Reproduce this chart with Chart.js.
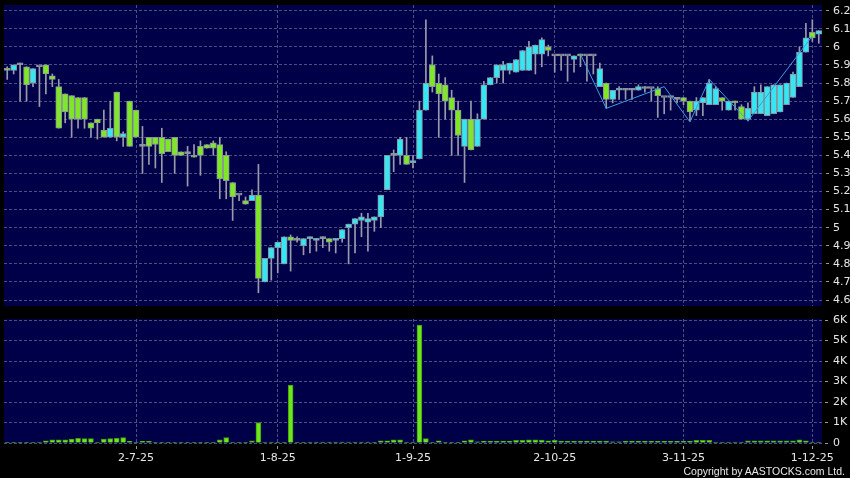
<!DOCTYPE html>
<html>
<head>
<meta charset="utf-8">
<script src="https://cdn.jsdelivr.net/npm/chart.js@4.4.1/dist/chart.umd.min.js"></script>
<style>
  body { margin: 0; background: #000; width: 850px; height: 478px; overflow: hidden; position: relative; }
  #price { position: absolute; left: 0; top: 0; }
  #vol { position: absolute; left: 0; top: 310px; }
  #copy { position: absolute; right: 5px; top: 465px; color: #e8e8e8; font: 10.5px 'Liberation Sans', sans-serif; }
</style>
</head>
<body>
<canvas id="price" width="850" height="310"></canvas>
<canvas id="vol" width="850" height="168"></canvas>
<div id="copy">Copyright by AASTOCKS.com Ltd.</div>
<script>
// trading days, 3 Jun 2025 - 2 Dec 2025
const dates = [
  '3-6-25','4-6-25','5-6-25','6-6-25','9-6-25','10-6-25','11-6-25','12-6-25','13-6-25','16-6-25',
  '17-6-25','18-6-25','19-6-25','20-6-25','23-6-25','24-6-25','25-6-25','26-6-25','27-6-25','30-6-25',
  '2-7-25','3-7-25','4-7-25','7-7-25','8-7-25','9-7-25','10-7-25','11-7-25','14-7-25','15-7-25',
  '16-7-25','17-7-25','18-7-25','21-7-25','22-7-25','23-7-25','24-7-25','25-7-25','28-7-25','29-7-25',
  '30-7-25','31-7-25','1-8-25','4-8-25','5-8-25','6-8-25','7-8-25','8-8-25','11-8-25','12-8-25',
  '13-8-25','14-8-25','15-8-25','18-8-25','19-8-25','20-8-25','21-8-25','22-8-25','25-8-25','26-8-25',
  '27-8-25','28-8-25','29-8-25','1-9-25','2-9-25','3-9-25','4-9-25','5-9-25','8-9-25','9-9-25',
  '10-9-25','11-9-25','12-9-25','15-9-25','16-9-25','17-9-25','18-9-25','19-9-25','22-9-25','23-9-25',
  '24-9-25','25-9-25','26-9-25','29-9-25','30-9-25','2-10-25','3-10-25','6-10-25','8-10-25','9-10-25',
  '10-10-25','13-10-25','14-10-25','15-10-25','16-10-25','17-10-25','20-10-25','21-10-25','22-10-25','23-10-25',
  '24-10-25','27-10-25','28-10-25','30-10-25','31-10-25','3-11-25','4-11-25','5-11-25','6-11-25','7-11-25',
  '10-11-25','11-11-25','12-11-25','13-11-25','14-11-25','17-11-25','18-11-25','19-11-25','20-11-25','21-11-25',
  '24-11-25','25-11-25','26-11-25','27-11-25','28-11-25','1-12-25','2-12-25'
];

const opens = [
  5.88,5.87,5.90,5.89,5.80,5.89,5.90,5.84,5.78,5.74,
  5.73,5.72,5.72,5.58,5.60,5.54,5.50,5.75,5.50,5.70,
  5.65,5.45,5.50,5.50,5.50,5.49,5.50,5.42,5.41,5.40,
  5.45,5.46,5.47,5.46,5.40,5.25,5.18,5.15,5.15,5.18,
  4.70,4.83,4.89,4.80,4.95,4.93,4.90,4.94,4.93,4.94,
  4.94,4.93,4.94,5.00,5.02,5.04,5.03,5.04,5.06,5.21,
  5.40,5.40,5.40,5.36,5.38,5.65,5.90,5.80,5.79,5.72,
  5.65,5.45,5.60,5.45,5.60,5.79,5.83,5.87,5.87,5.86,
  5.87,5.87,5.96,5.96,6.00,5.95,5.95,5.95,5.93,5.96,
  5.95,5.95,5.78,5.80,5.71,5.76,5.76,5.76,5.76,5.77,
  5.77,5.77,5.72,5.72,5.71,5.72,5.70,5.65,5.69,5.68,
  5.68,5.72,5.65,5.70,5.67,5.60,5.63,5.63,5.62,5.63,
  5.64,5.68,5.72,5.78,5.97,6.08,6.07
];
const closes = [
  5.87,5.90,5.90,5.79,5.88,5.89,5.85,5.82,5.55,5.64,
  5.60,5.60,5.60,5.55,5.58,5.50,5.55,5.50,5.52,5.45,
  5.50,5.45,5.45,5.46,5.41,5.42,5.40,5.40,5.41,5.39,
  5.40,5.44,5.44,5.27,5.26,5.17,5.18,5.13,5.18,4.72,
  4.83,4.89,4.92,4.95,4.93,4.93,4.94,4.95,4.94,4.94,
  4.92,4.94,4.99,5.02,5.05,5.06,5.05,5.06,5.18,5.40,
  5.40,5.49,5.35,5.37,5.65,5.80,5.78,5.74,5.70,5.65,
  5.51,5.60,5.43,5.60,5.79,5.83,5.90,5.90,5.91,5.93,
  5.98,6.00,6.01,6.04,5.98,5.95,5.95,5.95,5.95,5.95,
  5.95,5.95,5.88,5.71,5.76,5.77,5.76,5.76,5.78,5.77,
  5.77,5.73,5.72,5.72,5.71,5.70,5.64,5.70,5.72,5.80,
  5.77,5.70,5.70,5.69,5.60,5.66,5.75,5.75,5.78,5.79,
  5.79,5.80,5.85,5.97,6.05,6.05,6.09
];
const highs = [
  5.89,5.90,5.91,5.89,5.88,5.89,5.90,5.85,5.82,5.74,
  5.73,5.72,5.72,5.58,5.60,5.65,5.70,5.75,5.53,5.70,
  5.65,5.56,5.50,5.50,5.55,5.49,5.50,5.42,5.45,5.46,
  5.48,5.46,5.48,5.50,5.42,5.25,5.18,5.17,5.21,5.35,
  4.83,4.89,4.92,4.95,4.96,4.95,4.94,4.95,4.94,4.95,
  4.94,4.94,4.99,5.02,5.05,5.08,5.08,5.06,5.18,5.40,
  5.43,5.50,5.50,5.40,5.70,6.15,5.95,5.85,5.83,5.76,
  5.70,5.60,5.70,5.63,5.81,5.83,5.90,5.92,5.91,5.93,
  5.98,6.03,6.01,6.05,6.01,5.95,5.95,5.95,5.95,5.96,
  5.95,5.95,5.91,5.80,5.76,5.78,5.77,5.77,5.79,5.78,
  5.77,5.78,5.72,5.72,5.72,5.72,5.70,5.72,5.72,5.82,
  5.78,5.72,5.70,5.70,5.68,5.69,5.78,5.79,5.78,5.79,
  5.79,5.80,5.86,6.00,6.13,6.15,6.09
];
const lows = [
  5.82,5.85,5.70,5.70,5.78,5.67,5.74,5.78,5.55,5.58,
  5.50,5.55,5.55,5.50,5.49,5.50,5.50,5.48,5.45,5.45,
  5.50,5.30,5.35,5.33,5.25,5.42,5.30,5.40,5.23,5.39,
  5.29,5.44,5.40,5.16,5.16,5.04,5.15,5.13,5.15,4.64,
  4.70,4.71,4.75,4.80,4.76,4.92,4.85,4.86,4.87,4.89,
  4.87,4.86,4.92,4.80,4.86,4.95,4.87,4.98,5.00,5.21,
  5.31,5.35,5.35,5.33,5.38,5.65,5.75,5.50,5.60,5.40,
  5.40,5.25,5.43,5.45,5.60,5.79,5.80,5.80,5.85,5.86,
  5.87,5.87,5.85,5.89,5.95,5.86,5.87,5.81,5.86,5.89,
  5.81,5.85,5.78,5.66,5.69,5.71,5.71,5.71,5.76,5.75,
  5.70,5.61,5.63,5.65,5.69,5.68,5.59,5.62,5.62,5.68,
  5.68,5.65,5.65,5.65,5.60,5.59,5.63,5.63,5.62,5.63,
  5.64,5.68,5.72,5.78,5.97,6.03,6.02
];
const volumes = [
  15,15,20,20,15,50,110,150,150,150,
  195,230,210,210,20,195,210,230,260,80,
  10,80,80,15,15,10,10,15,30,10,
  10,10,10,160,260,50,10,10,100,1000,
  50,50,10,10,2820,20,15,40,40,40,
  40,40,40,50,40,40,40,30,110,110,
  160,160,50,50,5750,210,30,110,30,30,
  30,110,160,60,90,90,90,90,90,130,
  130,160,160,145,110,130,90,90,90,90,
  90,90,90,90,60,60,90,90,90,90,
  90,80,80,80,80,80,80,130,130,130,
  50,50,50,50,50,100,100,100,100,100,
  100,100,100,150,110,50,50
];

// zigzag overlay pivots
const zigzagDates = ['9-10-25','15-10-25','28-10-25','4-11-25','7-11-25','17-11-25','1-12-25'];
const zigzagPrices = [5.96, 5.66, 5.78, 5.585, 5.82, 5.59, 6.06];

const dateTicks = ['2-7-25','1-8-25','1-9-25','2-10-25','3-11-25','1-12-25'];
const priceTicks = [4.6,4.7,4.8,4.9,5.0,5.1,5.2,5.3,5.4,5.5,5.6,5.7,5.8,5.9,6.0,6.1,6.2];
const volTicks = [0,1000,2000,3000,4000,5000,6000];

const gridColor = '#4e4e86';
const labelColor = '#e6e6e6';
const axisFont = { family: 'DejaVu Sans', size: 11 };
const tickIdx = dateTicks.map(d => dates.indexOf(d));

Chart.defaults.plugins.legend.display = false;
Chart.defaults.plugins.tooltip.enabled = false;

// axes keep a fixed size, no extra room for half labels
function fixY(s) { s.width = 28; s.paddingTop = 0; s.paddingBottom = 0; }
function fixX(h) { return s => { s.height = h; s.paddingLeft = 0; s.paddingRight = 0; }; }

// navy plot background
const plotBg = {
  id: 'plotBg',
  beforeDraw(chart) {
    const a = chart.chartArea, c = chart.ctx;
    c.save();
    c.fillStyle = '#000048';
    c.fillRect(a.left, a.top, a.right - a.left, a.bottom - a.top);
    c.restore();
  }
};

const bodyColors = opens.map((o, i) => closes[i] > o ? '#36e6f2' : closes[i] < o ? '#80e628' : '#9aa0aa');

new Chart(document.getElementById('price'), {
  type: 'bar',
  data: {
    labels: dates,
    datasets: [
      {
        type: 'line',
        data: zigzagDates.map((d, i) => ({ x: d, y: zigzagPrices[i] })),
        borderColor: '#3a9ee0',
        borderWidth: 1,
        pointRadius: 0,
        order: 0
      },
      {
        data: opens.map((o, i) => [o, closes[i]]),
        backgroundColor: bodyColors,
        borderColor: '#8a949e',
        borderWidth: 1,
        borderSkipped: false,
        barThickness: 6,
        minBarLength: 2,
        grouped: false,
        order: 1
      },
      {
        data: lows.map((l, i) => [l, highs[i]]),
        backgroundColor: '#9a9aaa',
        barThickness: 1,
        grouped: false,
        order: 2
      }
    ]
  },
  options: {
    responsive: false,
    animation: false,
    layout: { autoPadding: false, padding: { left: 4, top: 5, right: 0, bottom: 4 } },
    scales: {
      x: {
        grid: { color: gridColor, offset: false, drawTicks: false },
        border: { display: false, dash: [3, 2] },
        ticks: { display: false, autoSkip: false },
        afterBuildTicks: s => { s.ticks = tickIdx.map(v => ({ value: v })); },
        afterFit: fixX(0)
      },
      y: {
        position: 'right',
        min: 4.567,
        max: 6.2315,
        afterBuildTicks: s => { s.ticks = priceTicks.map(v => ({ value: v })); },
        grid: { color: gridColor, tickColor: '#9a9a9a', tickLength: 8, tickBorderDash: [0, 4, 3, 20] },
        border: { display: false, dash: [3, 2] },
        ticks: { color: labelColor, font: axisFont, padding: 3, callback: v => String(+v.toFixed(1)) },
        afterFit: fixY
      }
    }
  },
  plugins: [plotBg]
});

new Chart(document.getElementById('vol'), {
  type: 'bar',
  data: {
    labels: dates,
    datasets: [{
      data: volumes,
      backgroundColor: '#6ee61c',
      borderColor: '#3f9a0c',
      borderWidth: 1,
      barThickness: 5
    }]
  },
  options: {
    responsive: false,
    animation: false,
    layout: { autoPadding: false, padding: { left: 4, top: 9, right: 0, bottom: 0 } },
    scales: {
      x: {
        grid: { color: gridColor, offset: false, tickColor: '#9a9a9a', tickLength: 6, tickBorderDash: [0, 3, 3, 20] },
        border: { display: false, dash: [3, 2] },
        ticks: { color: labelColor, font: axisFont, padding: 3, autoSkip: false, maxRotation: 0 },
        afterBuildTicks: s => { s.ticks = tickIdx.map(v => ({ value: v })); },
        afterFit: fixX(35)
      },
      y: {
        position: 'right',
        min: 0,
        max: 6049,
        afterBuildTicks: s => { s.ticks = volTicks.map(v => ({ value: v })); },
        grid: { color: gridColor, tickColor: '#9a9a9a', tickLength: 8, tickBorderDash: [0, 3, 3, 20] },
        border: { display: false, dash: [3, 2] },
        ticks: { color: labelColor, font: axisFont, padding: 3, callback: v => v ? (v / 1000) + 'K' : '0' },
        afterFit: fixY
      }
    }
  },
  plugins: [plotBg]
});
</script>
</body>
</html>
